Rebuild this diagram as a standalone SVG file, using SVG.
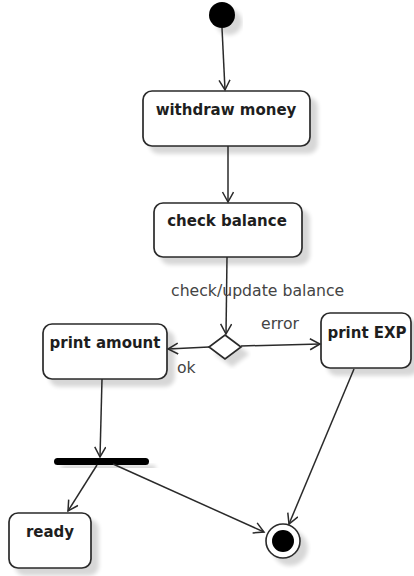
<svg xmlns="http://www.w3.org/2000/svg" width="414" height="576" viewBox="0 0 414 576">
<style>
.node{fill:#fff;stroke:#2a2a2a;stroke-width:1.7}
.name{font-family:"DejaVu Sans",sans-serif;font-weight:bold;font-size:15px;fill:#1e1e1e;text-anchor:middle}
.lbl{font-family:"DejaVu Sans",sans-serif;font-size:15.7px;fill:#444}
.edge{fill:none;stroke:#2a2a2a;stroke-width:1.5;marker-end:url(#arr)}
</style>
<defs>
<filter id="sh" x="-20%" y="-20%" width="150%" height="160%">
<feGaussianBlur in="SourceAlpha" stdDeviation="2"/>
<feOffset dx="7" dy="7" result="o"/>
<feComponentTransfer><feFuncA type="linear" slope="0.16"/></feComponentTransfer>
<feMerge><feMergeNode/><feMergeNode in="SourceGraphic"/></feMerge>
</filter>
<marker id="arr" markerUnits="userSpaceOnUse" markerWidth="14" markerHeight="14" refX="11" refY="6" orient="auto">
<path d="M1,0.5 L11,6 L1,11.5" fill="none" stroke="#2a2a2a" stroke-width="1.5"/>
</marker>
</defs>
<g id="start" filter="url(#sh)"><circle cx="222" cy="15" r="13" fill="#000"/></g>
<g id="withdraw"><rect class="node" filter="url(#sh)" x="143" y="91" width="167" height="55" rx="9"/><text class="name" x="226" y="115">withdraw money</text></g>
<g id="check"><rect class="node" filter="url(#sh)" x="154" y="203" width="148" height="54" rx="9"/><text class="name" x="227" y="226">check balance</text></g>
<g id="decision"><path class="node" filter="url(#sh)" d="M225,335 L241,347 L225,359 L209,347 Z"/></g>
<g id="printAmount"><rect class="node" filter="url(#sh)" x="43" y="324" width="124" height="55" rx="9"/><text class="name" x="105" y="348">print amount</text></g>
<g id="printEXP"><rect class="node" filter="url(#sh)" x="321" y="313" width="90" height="55" rx="9"/><text class="name" x="367" y="337.5">print EXP</text></g>
<g id="fork" filter="url(#sh)"><rect x="54" y="458" width="95" height="7" rx="3.5" fill="#000"/></g>
<g id="ready"><rect class="node" filter="url(#sh)" x="9" y="513" width="82" height="55" rx="9"/><text class="name" x="50" y="537">ready</text></g>
<g id="end" filter="url(#sh)"><circle cx="283" cy="541" r="17" fill="#fff" stroke="#2a2a2a" stroke-width="1.6"/><circle cx="283" cy="541" r="11" fill="#000"/></g>
<g id="edges">
<path class="edge" d="M222,28 L225,90"/>
<path class="edge" d="M228,146 L228,202"/>
<path class="edge" d="M227,257 L226,334"/>
<path class="edge" d="M209,347 L168,349"/>
<path class="edge" d="M241,346 L320,344"/>
<path class="edge" d="M102,379 L100,457"/>
<path class="edge" d="M97,465 L68,511"/>
<path class="edge" d="M113,464 L264,532"/>
<path class="edge" d="M354,369 L289,524"/>
<text class="lbl" x="171" y="296">check/update balance</text>
<text class="lbl" x="261" y="329">error</text>
<text class="lbl" x="177" y="373">ok</text>
</g>
</svg>
